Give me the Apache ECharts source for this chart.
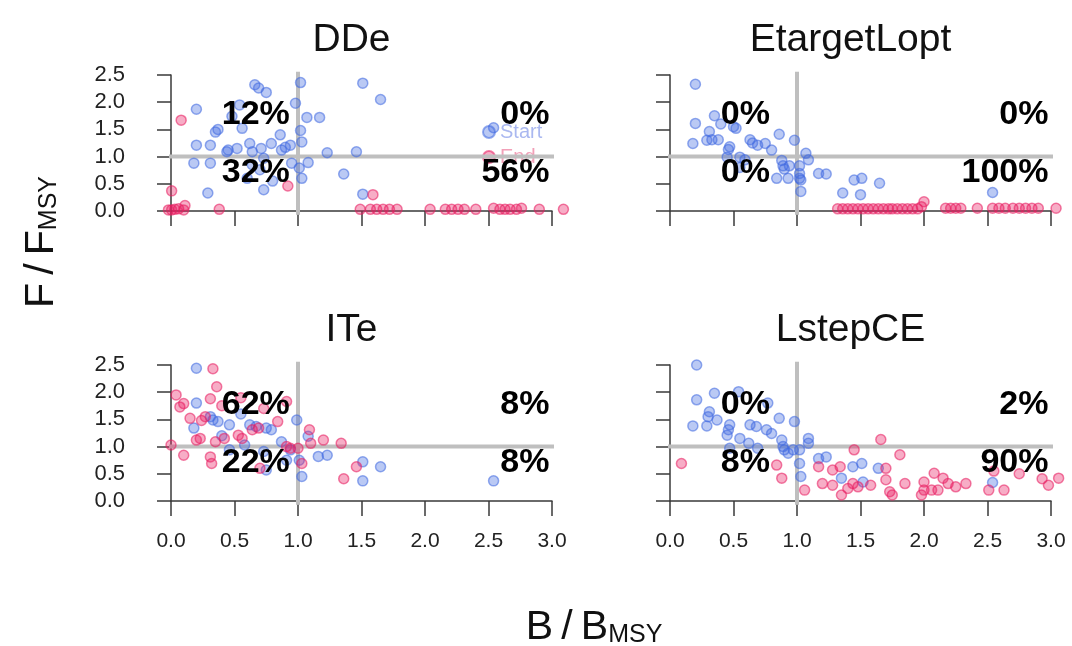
<!DOCTYPE html>
<html>
<head>
<meta charset="utf-8">
<script src="https://cdn.jsdelivr.net/npm/echarts@6/dist/echarts.min.js"></script>
<style>
  html, body { margin: 0; padding: 0; background: #fff; }
  #chart { width: 1072px; height: 646px; }
</style>
</head>
<body>
<div id="chart"></div>
<script>
// panel names, in drawing order: top-left, top-right, bottom-left, bottom-right
const panelNames = ['DDe', 'EtargetLopt', 'ITe', 'LstepCE']

// quadrant percentages: upper-left, upper-right, lower-left, lower-right
const ddePct = ['12%', '0%', '32%', '56%']
const etgPct = ['0%', '0%', '0%', '100%']
const itePct = ['62%', '8%', '22%', '8%']
const lscPct = ['0%', '2%', '8%', '90%']

// [B/Bmsy, F/Fmsy]
const ddeStart = [[0.20,1.87],[0.66,2.32],[0.69,2.26],[0.75,2.18],[1.02,2.36],[1.51,2.35],[1.65,2.05],[0.98,1.98],
  [1.07,1.72],[1.17,1.72],[1.02,1.48],[0.54,1.95],[0.48,1.74],[0.56,1.52],[0.37,1.50],[0.35,1.45],[0.20,1.21],
  [0.31,1.21],[0.45,1.12],[0.44,1.09],[0.52,1.15],[0.62,1.24],[0.64,1.09],[0.71,1.15],[0.79,1.24],[0.86,1.40],
  [0.87,1.12],[0.90,1.17],[0.94,1.21],[1.03,1.27],[1.23,1.07],[1.46,1.09],[0.18,0.88],[0.31,0.88],[0.73,0.97],
  [0.64,0.85],[0.70,0.76],[0.95,0.88],[1.01,0.79],[1.08,0.89],[1.03,0.60],[1.36,0.68],[0.73,0.39],[0.29,0.33],
  [1.51,0.31],[2.54,1.53],[0.60,0.60],[0.80,0.55]]
const ddeEnd = [[0.08,1.67],[0.005,0.37],[-0.02,0.02],[0.005,0.02],[0.03,0.03],[0.06,0.04],[0.10,0.02],[0.11,0.10],
  [0.38,0.03],[0.92,0.46],[1.59,0.30],[1.49,0.03],[1.57,0.03],[1.62,0.03],[1.67,0.03],[1.72,0.03],[1.78,0.03],
  [2.04,0.03],[2.16,0.03],[2.21,0.03],[2.26,0.03],[2.31,0.03],[2.40,0.03],[2.54,0.05],[2.59,0.03],[2.63,0.03],
  [2.67,0.03],[2.72,0.03],[2.76,0.05],[2.90,0.03],[3.09,0.03]]

const etgStart = [[0.20,2.33],[0.20,1.61],[0.35,1.75],[0.18,1.24],[0.31,1.46],[0.29,1.30],[0.33,1.31],[0.38,1.31],
  [0.52,1.52],[0.47,1.18],[0.46,1.13],[0.45,0.99],[0.55,0.99],[0.59,0.94],[0.63,1.31],[0.65,1.25],[0.69,1.21],
  [0.75,1.24],[0.80,1.12],[0.86,1.41],[0.98,1.30],[0.88,0.93],[0.89,0.83],[0.90,0.77],[0.94,0.83],[0.84,0.60],
  [0.93,0.60],[1.02,0.83],[1.02,0.69],[1.02,0.60],[1.03,0.57],[1.03,0.36],[1.07,1.06],[1.09,0.94],[1.17,0.69],
  [1.23,0.68],[1.36,0.33],[1.45,0.57],[1.51,0.60],[1.50,0.30],[1.65,0.51],[2.54,0.34],[0.50,1.55],[0.55,0.80],
  [0.40,1.60]]
const etgEnd = [[1.32,0.04],[1.36,0.04],[1.40,0.04],[1.44,0.04],[1.48,0.04],[1.52,0.04],[1.56,0.04],[1.60,0.04],
  [1.64,0.04],[1.68,0.04],[1.72,0.04],[1.75,0.04],[1.79,0.04],[1.83,0.04],[1.87,0.04],[1.91,0.04],[1.95,0.04],
  [2.00,0.17],[1.98,0.08],[2.17,0.05],[2.21,0.05],[2.25,0.05],[2.29,0.05],[2.42,0.05],[2.54,0.05],[2.59,0.05],
  [2.64,0.05],[2.70,0.05],[2.75,0.05],[2.80,0.05],[2.85,0.05],[2.90,0.05],[3.04,0.05]]

const iteStart = [[0.20,2.44],[0.20,1.80],[0.18,1.34],[0.31,1.55],[0.33,1.49],[0.37,1.46],[0.46,1.40],[0.62,1.40],
  [0.67,1.37],[0.75,1.34],[0.79,1.31],[0.99,1.49],[1.08,1.19],[0.87,1.09],[0.46,0.94],[0.58,1.03],[0.73,0.91],
  [0.94,0.94],[0.91,0.75],[1.01,0.75],[1.03,0.45],[1.16,0.82],[1.23,0.84],[1.51,0.72],[1.65,0.63],[1.51,0.37],
  [2.54,0.37],[0.75,0.57],[0.55,1.60],[0.40,1.20]]
const iteEnd = [[0.33,2.43],[0.36,2.10],[0.04,1.95],[0.10,1.79],[0.07,1.73],[0.31,1.88],[0.15,1.52],[0.24,1.48],
  [0.27,1.55],[0.91,1.83],[0.73,1.70],[0.84,1.46],[0.23,1.15],[0.20,1.12],[0.35,1.09],[0.42,1.15],[0.53,1.21],
  [0.56,1.15],[0.64,1.31],[0.69,1.34],[0.00,1.03],[0.10,0.84],[0.31,0.81],[0.32,0.69],[0.91,1.00],[0.94,0.97],
  [1.00,0.97],[1.09,1.31],[1.10,1.06],[1.20,1.12],[1.34,1.06],[1.03,0.69],[1.36,0.41],[1.46,0.63],[0.70,0.60],
  [0.40,1.75],[0.55,1.90]]

const lscStart = [[0.21,2.50],[0.21,1.86],[0.35,1.98],[0.54,2.01],[0.31,1.64],[0.30,1.55],[0.37,1.49],[0.18,1.38],
  [0.29,1.38],[0.47,1.40],[0.46,1.31],[0.45,1.21],[0.63,1.40],[0.68,1.37],[0.76,1.31],[0.80,1.24],[0.77,1.80],
  [0.86,1.52],[0.98,1.46],[0.55,1.15],[0.62,1.06],[0.69,0.97],[0.88,1.12],[0.89,1.00],[0.90,0.94],[0.93,0.88],
  [0.97,0.94],[1.02,0.94],[1.02,0.69],[1.03,0.45],[1.09,1.15],[1.09,1.06],[1.17,0.78],[1.23,0.81],[1.35,0.42],
  [1.44,0.63],[1.51,0.69],[1.64,0.60],[1.52,0.35],[0.47,0.97],[2.54,0.34]]
const lscEnd = [[0.09,0.69],[0.84,0.66],[0.88,0.42],[1.06,0.20],[1.17,0.63],[1.20,0.32],[1.28,0.57],[1.34,0.63],
  [1.28,0.29],[1.35,0.11],[1.40,0.23],[1.44,0.32],[1.48,0.26],[1.45,0.94],[1.58,0.29],[1.70,0.60],[1.70,0.39],
  [1.66,1.13],[1.81,0.85],[1.73,0.17],[1.75,0.11],[1.85,0.32],[1.98,0.11],[2.00,0.20],[2.00,0.35],[2.06,0.20],
  [2.11,0.20],[2.08,0.51],[2.15,0.42],[2.19,0.32],[2.25,0.26],[2.33,0.32],[2.51,0.20],[2.63,0.20],[2.98,0.29],
  [3.06,0.42],[2.93,0.41],[2.55,0.55],[2.75,0.50]]

const xTicks = [0, 3, 0.5]
const yTicks = [0, 2.5, 0.5]
const refB = 1
const refF = 1

const FONT = "'Liberation Sans', Arial, Helvetica, sans-serif"
const AXIS_COLOR = '#3a3a3a'
const BLUE = 'rgba(65,105,225,'
const RED = 'rgba(232,28,96,'

const panels = [
  {name: panelNames[0], start: ddeStart, end: ddeEnd, pct: ddePct, left: 171, top: 75, xLabels: false, yLabels: true},
  {name: panelNames[1], start: etgStart, end: etgEnd, pct: etgPct, left: 670, top: 75, xLabels: false, yLabels: false},
  {name: panelNames[2], start: iteStart, end: iteEnd, pct: itePct, left: 171, top: 365, xLabels: true, yLabels: true},
  {name: panelNames[3], start: lscStart, end: lscEnd, pct: lscPct, left: 670, top: 365, xLabels: true, yLabels: false}
]
const PW = 381
const PH = 136

const chart = echarts.init(document.getElementById('chart'), null, {renderer: 'canvas'})

const grid = [], xAxis = [], yAxis = [], series = [], title = []

function refLine(i, data) {
  return {
    type: 'line', xAxisIndex: i, yAxisIndex: i, data: data, clip: false, silent: true,
    showSymbol: false, symbol: 'none', z: 1,
    lineStyle: {color: '#bfbfbf', width: 4},
    emphasis: {disabled: true}
  }
}

panels.forEach((p, i) => {
  grid.push({left: p.left, top: p.top, width: PW, height: PH, outerBoundsMode: 'none', containLabel: false})
  xAxis.push({
    gridIndex: i, type: 'value', min: xTicks[0], max: xTicks[1], interval: xTicks[2], offset: 5,
    axisLine: {show: true, lineStyle: {color: AXIS_COLOR, width: 1.5}},
    axisTick: {show: true, length: 15, lineStyle: {color: AXIS_COLOR, width: 1.5}},
    axisLabel: {show: p.xLabels, margin: 25, fontSize: 21, color: '#222', fontFamily: FONT,
      formatter: v => v.toFixed(1)},
    splitLine: {show: false}
  })
  yAxis.push({
    gridIndex: i, type: 'value', min: yTicks[0], max: yTicks[1], interval: yTicks[2], offset: 15,
    axisLine: {show: true, lineStyle: {color: AXIS_COLOR, width: 1.5}},
    axisTick: {show: true, length: 14, lineStyle: {color: AXIS_COLOR, width: 1.5}},
    axisLabel: {show: p.yLabels, margin: 31, fontSize: 22, color: '#222', fontFamily: FONT,
      formatter: v => v.toFixed(1)},
    splitLine: {show: false}
  })
  title.push({
    text: p.name, left: p.left + PW / 2 - 10, top: p.top - 35, textAlign: 'center', textVerticalAlign: 'middle',
    padding: 0, textStyle: {fontSize: 39, fontWeight: 'normal', color: '#111', fontFamily: FONT}
  })

  // reference lines at B = Bmsy and F = Fmsy, spanning the plot region
  series.push(refLine(i, [[refB, -0.07], [refB, 2.56]]))
  series.push(refLine(i, [[-0.12, refF], [3.13, refF]]))

  series.push({
    name: 'Start', type: 'scatter', xAxisIndex: i, yAxisIndex: i, data: p.start, clip: false,
    symbolSize: 10, z: 3,
    itemStyle: {color: BLUE + '0.45)', borderColor: BLUE + '0.7)', borderWidth: 1.5}
  })
  series.push({
    name: 'End', type: 'scatter', xAxisIndex: i, yAxisIndex: i, data: p.end, clip: false,
    symbolSize: 10, z: 3,
    itemStyle: {color: RED + '0.45)', borderColor: RED + '0.7)', borderWidth: 1.5}
  })
  // quadrant percentages
  const lx = 0.40, rx = 2.98, uy = 1.77, ly = 0.70
  series.push({
    name: 'pct' + i, type: 'scatter', xAxisIndex: i, yAxisIndex: i, clip: false, symbolSize: 0, z: 6,
    silent: true,
    label: {show: true, position: 'inside', formatter: '{b}', fontSize: 34, fontWeight: 'bold',
      color: '#000', opacity: 1, textBorderWidth: 0, fontFamily: FONT},
    data: [
      {name: p.pct[0], value: [lx, uy], label: {align: 'left'}},
      {name: p.pct[1], value: [rx, uy], label: {align: 'right'}},
      {name: p.pct[2], value: [lx, ly], label: {align: 'left'}},
      {name: p.pct[3], value: [rx, ly], label: {align: 'right'}}
    ]
  })
})

const axisTitleRich = {
  m: {fontSize: 41, lineHeight: 52, verticalAlign: 'bottom', fontFamily: FONT, fill: '#111'},
  s: {fontSize: 25, lineHeight: 25, verticalAlign: 'bottom', fontFamily: FONT, fill: '#111'}
}

const options = {
  backgroundColor: '#fff',
  animation: false,
  title: title,
  grid: grid,
  xAxis: xAxis,
  yAxis: yAxis,
  legend: {
    left: 477, top: 117, orient: 'vertical', itemGap: 5, itemWidth: 12, itemHeight: 12,
    icon: 'circle', selectedMode: false, z: 1,
    textStyle: {fontSize: 20, fontFamily: FONT},
    data: [
      {name: 'Start', textStyle: {color: '#aab8f0'}},
      {name: 'End', textStyle: {color: '#f2a0b8'}}
    ]
  },
  graphic: [
    {
      type: 'text', x: 36, y: 242, rotation: Math.PI / 2,
      style: {
        text: '{m|F\u2009/\u2009F}{s|MSY}', align: 'center', verticalAlign: 'middle', fontFamily: FONT,
        fill: '#111', rich: axisTitleRich
      }
    },
    {
      type: 'text', x: 594, y: 622,
      style: {
        text: '{m|B\u2009/\u2009B}{s|MSY}', align: 'center', verticalAlign: 'middle', fontFamily: FONT,
        fill: '#111', rich: axisTitleRich
      }
    }
  ],
  series: series
}

chart.setOption(options)
</script>
</body>
</html>
